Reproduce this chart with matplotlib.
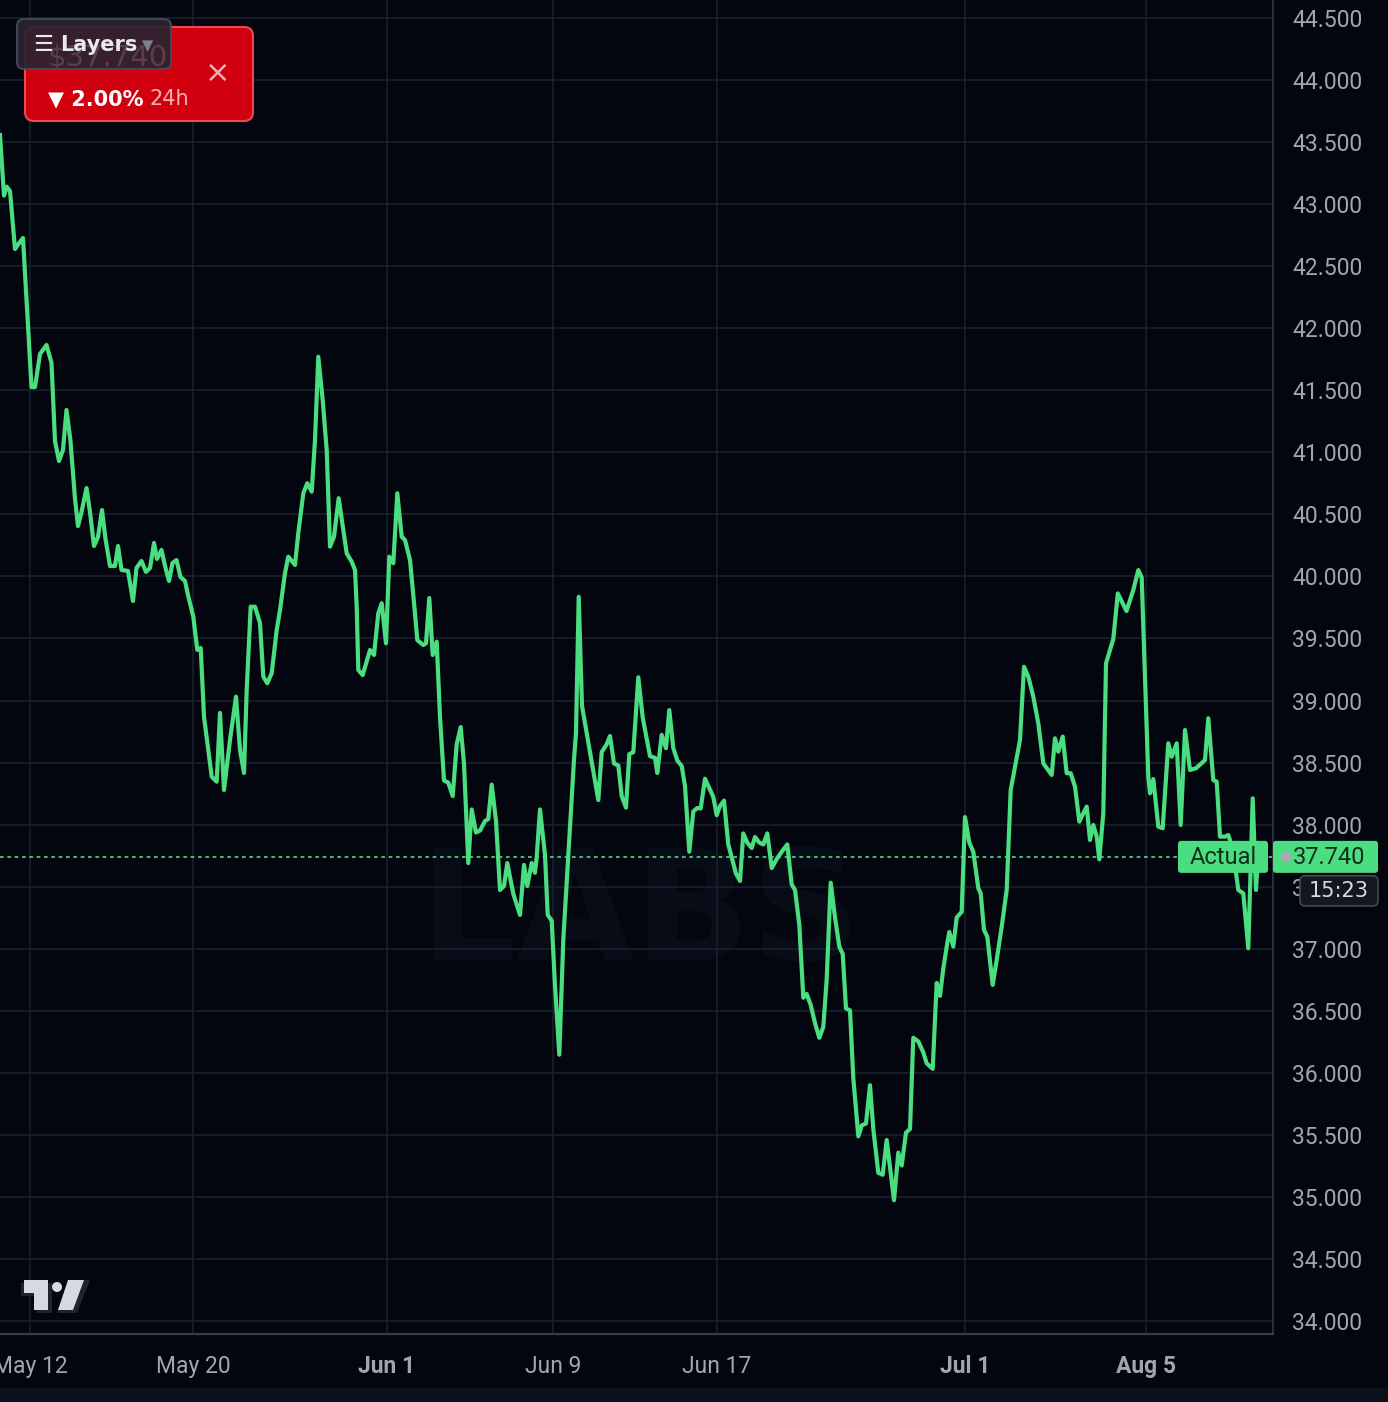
import matplotlib
matplotlib.use("Agg")
import matplotlib.pyplot as plt
from matplotlib.patches import FancyBboxPatch, Rectangle, Circle, Polygon

# bar position (chart x units) and close price
t = [0, 4, 6.7, 10, 15, 18, 23, 31.5, 35, 40, 46.5, 51.5, 55, 59, 63, 66.5, 70.5,
     75, 78, 81.5, 86.5, 90, 94, 98, 102, 105.5, 110, 115, 118, 121.5, 128, 133,
     136.5, 141.5, 146, 150, 154, 157, 161.5, 165.5, 169, 172.5, 176.5, 180.5, 185,
     188, 193.3, 197.3, 200.7, 204, 211.7, 216.7, 220, 224, 230, 236, 240, 244,
     246.7, 250.7, 255, 260, 263.3, 267.3, 271.7, 276.7, 280, 285, 288.3, 295,
     298.3, 303.3, 307.3, 311.7, 315, 318.3, 322.7, 326.7, 330, 334, 338.7, 343.3,
     346.7, 351.7, 355, 356.7, 358.3, 362.7, 370, 374, 378.3, 381.7, 386, 389.3,
     393.3, 397.3, 401.7, 405, 410, 415, 417.3, 423.3, 426, 429.3, 432.7, 436.7,
     440, 444, 448.3, 452.7, 456.7, 460.7, 464, 468.3, 471.7, 476, 480, 485, 488.3,
     491.7, 496, 500, 504, 507.3, 513.3, 520, 524, 527.3, 531.7, 535, 536.7, 540,
     545, 547.7, 551.7, 555, 559.3, 563.3, 568.3, 574, 576, 578.7, 582, 586.7,
     593.3, 598.3, 601.7, 606.7, 610, 614, 618.3, 621.7, 626, 629.3, 633.3, 638.3,
     642.7, 650, 655, 657.3, 661.7, 666, 669.3, 673.3, 677.3, 681.7, 685, 689.3,
     693.3, 697.3, 700.7, 705, 710, 713.3, 716.7, 720, 724, 728.3, 731.7, 736, 740,
     743.3, 747.3, 751.7, 755, 759.3, 763.3, 767.3, 771.7, 776.7, 781.7, 787.3,
     791.7, 795, 799.3, 803.3, 806.7, 810.7, 815, 819.3, 823.3, 826.7, 830.7, 835,
     839.3, 842.7, 846, 850, 853.3, 858.3, 861.7, 866, 870, 873.3, 878.3, 882.7,
     886.7, 890.7, 894, 898.3, 901.7, 906, 910, 913.3, 918.3, 923.3, 926.7, 932.7,
     936.7, 940, 943.3, 947.3, 949.3, 953.3, 956.7, 961.7, 965, 969.3, 973.3, 978.3,
     980.7, 984, 987.3, 992.7, 996.7, 1001.7, 1006.7, 1010.7, 1015, 1020, 1024,
     1028.3, 1033.3, 1038.3, 1043.3, 1051.7, 1055, 1058.3, 1062.7, 1066.7, 1070.7,
     1075, 1079.3, 1083.3, 1086.7, 1090, 1093.3, 1096.7, 1099.3, 1103.3, 1106,
     1113.3, 1117.8, 1126.5, 1133.3, 1138.3, 1141.7, 1145.5, 1148.3, 1150, 1153.3,
     1158.3, 1162.7, 1168.3, 1171.7, 1176.7, 1180.7, 1185, 1190, 1196, 1203.3, 1205,
     1208.3, 1213.3, 1216.7, 1220, 1225, 1228.3, 1233, 1238.3, 1243.3, 1248.3,
     1252.7, 1256, 1258]
price = [43557, 43069, 43141, 43105, 42638, 42674, 42727, 41526, 41526, 41792, 41865,
         41720, 41091, 40930, 41019, 41341, 41091, 40624, 40406, 40519, 40712, 40519,
         40245, 40318, 40535, 40302, 40084, 40084, 40245, 40052, 40044, 39802, 40068,
         40124, 40036, 40068, 40269, 40141, 40213, 40068, 39963, 40108, 40132, 39995,
         39963, 39850, 39675, 39407, 39423, 38870, 38386, 38346, 38900, 38279, 38682,
         39031, 38601, 38416, 39085, 39756, 39756, 39624, 39192, 39139, 39220, 39568,
         39729, 40027, 40159, 40092, 40350, 40670, 40751, 40683, 41099, 41770, 41421,
         41019, 40240, 40320, 40630, 40374, 40186, 40118, 40052, 39756, 39246, 39205,
         39407, 39367, 39702, 39784, 39461, 40159, 40106, 40670, 40320, 40293, 40132,
         39702, 39487, 39447, 39461, 39826, 39367, 39474, 38867, 38356, 38338, 38230,
         38647, 38786, 38492, 37690, 38122, 37936, 37952, 38029, 38045, 38322, 38029,
         37473, 37505, 37690, 37442, 37272, 37675, 37505, 37690, 37612, 37739, 38122,
         37755, 37272, 37226, 36702, 36146, 37072, 37751, 38523, 38738, 39836, 38956,
         38738, 38431, 38198, 38584, 38648, 38714, 38492, 38477, 38230, 38137, 38568,
         38584, 39187, 38863, 38552, 38538, 38416, 38723, 38616, 38923, 38616, 38517,
         38472, 38311, 37782, 38106, 38134, 38130, 38370, 38282, 38223, 38076, 38150,
         38193, 37840, 37737, 37605, 37546, 37929, 37855, 37811, 37900, 37855, 37840,
         37929, 37650, 37722, 37781, 37840, 37517, 37473, 37194, 36605, 36635, 36547,
         36401, 36282, 36370, 36753, 37532, 37252, 37017, 36958, 36518, 36503, 35958,
         35488, 35576, 35591, 35900, 35547, 35194, 35178, 35458, 35194, 34973, 35356,
         35253, 35518, 35547, 36282, 36253, 36164, 36076, 36032, 36724, 36620, 36840,
         37046, 37135, 37017, 37252, 37297, 38061, 37855, 37781, 37487, 37446, 37151,
         37097, 36708, 36909, 37178, 37473, 38279, 38467, 38682, 39272, 39192, 39031,
         38816, 38494, 38400, 38695, 38588, 38709, 38414, 38414, 38306, 38024, 38091,
         38145, 37876, 37997, 37903, 37720, 38091, 39300, 39495, 39863, 39721, 39890,
         40051, 39991, 39058, 38386, 38252, 38367, 37984, 37970, 38655, 38547, 38655,
         37997, 38762, 38440, 38454, 38507, 38521, 38857, 38359, 38346, 37903, 37903,
         37916, 37795, 37473, 37446, 37003, 38212, 37473, 37740]

last_price = 37740
countdown = "15:23"
change_text = "2.00%"
date_pos = [30, 193, 387, 553, 717, 965, 1146]
date_labels = ["May 12", "May 20", "Jun 1", "Jun 9", "Jun 17", "Jul 1", "Aug 5"]
bold_dates = ["Jun 1", "Jul 1", "Aug 5"]
price_ticks = list(range(34000, 45000, 500))

W, H = 1388, 1402
BG = "#03060f"
GRID = "#1b2130"
GREEN = "#4ade80"
TXT = "#a2a5ae"
Y_LO, Y_HI = 33895, 44645
X_MAX = 1273
AX_H = 1334

fig = plt.figure(figsize=(W / 100, H / 100), dpi=100, facecolor=BG)
ax = fig.add_axes([0, (H - AX_H) / H, X_MAX / W, AX_H / H])
ax.set_facecolor(BG)

# faint watermark
ax.text(640, 37250, "LABS", fontsize=110, fontweight="bold", color="#080c16",
        ha="center", va="center", zorder=0.5)

ax.plot(t, price, color=GREEN, lw=3.0, solid_joinstyle="round", zorder=3)
ax.axhline(last_price, color=GREEN, lw=1.2, ls=(0, (2.2, 2.2)), zorder=2)

ax.set_xlim(0, X_MAX)
ax.set_ylim(Y_LO, Y_HI)
ax.set_xticks(date_pos)
ax.set_xticklabels(date_labels)
for lab in ax.get_xticklabels():
    if lab.get_text() in bold_dates:
        lab.set_fontweight("bold")
ax.yaxis.tick_right()
ax.set_yticks(price_ticks)
ax.set_yticklabels([f"{v / 1000:.3f}" for v in price_ticks])
ax.tick_params(axis="x", length=0, pad=15, labelsize=16.5, labelcolor=TXT)
ax.tick_params(axis="y", length=0, pad=14, labelsize=16.5, labelcolor=TXT)
for lab in ax.get_xticklabels() + ax.get_yticklabels():
    lab.set_family("Roboto")
ax.grid(True, color=GRID, lw=1.1, zorder=1)
ax.set_axisbelow(True)
for s in ["top", "left"]:
    ax.spines[s].set_visible(False)
ax.spines["right"].set_color("#2c3242")
ax.spines["bottom"].set_color("#353b4b")
ax.spines["right"].set_linewidth(1.3)
ax.spines["bottom"].set_linewidth(1.6)

# overlay in pixel coordinates for the UI widgets
ov = fig.add_axes([0, 0, 1, 1], zorder=10)
ov.set_xlim(0, W)
ov.set_ylim(H, 0)
ov.axis("off")
ov.patch.set_alpha(0)

y_last = (Y_HI - last_price) / (Y_HI - Y_LO) * AX_H

# Actual / last price labels
ov.add_patch(FancyBboxPatch((1178, y_last - 16), 90, 32,
                            boxstyle="round,pad=0,rounding_size=3", fc=GREEN, ec="none"))
ov.text(1223, y_last + 1, "Actual", fontsize=17, color="#13301d", ha="center",
        va="center", family="Roboto")
ov.add_patch(FancyBboxPatch((1273, y_last - 16), 105, 32,
                            boxstyle="round,pad=0,rounding_size=3", fc=GREEN, ec="none"))
ov.add_patch(Circle((1286, y_last), 5.5, fc="#a8aab4", ec="none"))
ov.text(1329, y_last + 1, f"{last_price / 1000:.3f}", fontsize=17, color="#13301d",
        ha="center", va="center", family="Roboto")
ov.add_patch(FancyBboxPatch((1300, y_last + 19), 78, 30,
                            boxstyle="round,pad=0,rounding_size=5", fc="#14171f",
                            ec="#454955", lw=1.2))
ov.text(1339, y_last + 34, countdown, fontsize=15, color="#dadbe0", ha="center",
        va="center", family="DejaVu Sans")

# red ticker card
ov.add_patch(FancyBboxPatch((25, 27), 228, 94, boxstyle="round,pad=0,rounding_size=9",
                            fc="#d0000f", ec="#ea4a52", lw=1.5))
ov.text(218, 73, "\u00d7", fontsize=22, color="#f2b0b4", ha="center", va="center")
ov.text(48, 99, "\u25bc 2.00%", fontsize=15, fontweight="bold", color="white",
        ha="left", va="center", family="DejaVu Sans")
ov.text(150, 99, "24h", fontsize=15, color="#f4b2b6", ha="left", va="center",
        family="DejaVu Sans")
ov.text(48, 58, "$37.740", fontsize=21, color="#5b3e48", ha="left", va="center",
        family="DejaVu Sans")

# Layers button
ov.add_patch(FancyBboxPatch((17, 19), 154, 50, boxstyle="round,pad=0,rounding_size=7",
                            fc="#2a2331", ec="#454a58", lw=1.5, alpha=0.93))
ov.text(43, 45, "\u2630", fontsize=16, color="#e8e8ee", ha="center", va="center",
        family="DejaVu Sans")
ov.text(60, 45, "Layers", fontsize=15, fontweight="bold", color="#e8e8ee",
        ha="left", va="center", family="DejaVu Sans")
ov.text(148, 46, "\u25bc", fontsize=10.5, color="#7b8190", ha="center", va="center",
        family="DejaVu Sans")

# TradingView logo
shade = "#1f232e"
logo = "#d7d9e1"
ov.add_patch(Polygon([(21, 1283), (52, 1283), (52, 1313), (37, 1313), (37, 1296), (21, 1296)],
                     fc=shade, ec="none"))
ov.add_patch(Polygon([(70, 1280), (90, 1280), (77, 1313), (57, 1313)], fc=shade, ec="none"))
ov.add_patch(Polygon([(24, 1280), (48, 1280), (48, 1310), (34, 1310), (34, 1293), (24, 1293)],
                     fc=logo, ec="none"))
ov.add_patch(Circle((57, 1287), 5, fc=logo, ec="none"))
ov.add_patch(Polygon([(68, 1280), (84, 1280), (73, 1310), (58, 1310)], fc=logo, ec="none"))

# strip of the page below the chart
ov.add_patch(Rectangle((0, 1388), W, 14, fc="#0b101d", ec="none"))

fig.savefig("out.png", dpi=100, facecolor=BG)
